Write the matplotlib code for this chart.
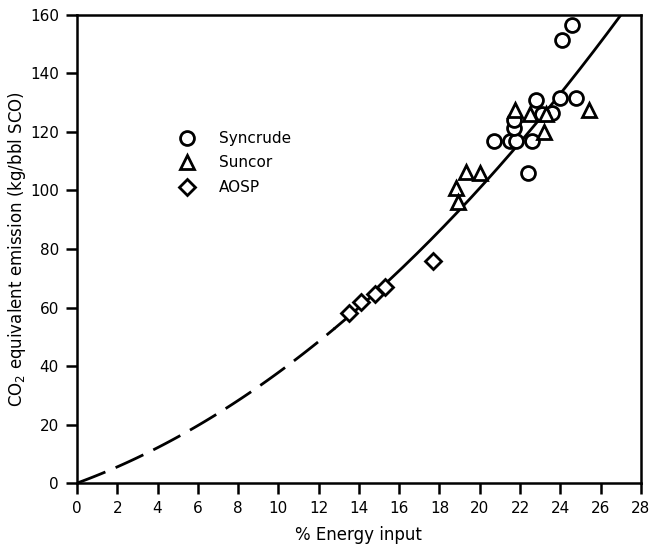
import numpy as np
import matplotlib

matplotlib.use("Agg")
import matplotlib.pyplot as plt

# Syncrude (open circles)
syncrude_x = [20.7, 21.5, 21.8, 22.6, 21.7, 21.7, 22.8, 24.0, 24.8, 23.6, 23.1, 22.4, 24.1, 24.6]
syncrude_y = [117, 117, 117, 117, 121.5, 124, 131, 131.5, 131.5, 126.5, 126, 106, 151.5, 156.5]

# Suncor (open triangles)
suncor_x = [21.75, 22.5, 23.3, 23.2, 25.4, 19.3, 20.0, 18.8, 18.9]
suncor_y = [127.5, 126, 126, 120, 127.5, 106.3, 106, 101, 96]

# AOSP (open diamonds)
aosp_x = [13.5, 14.1, 14.8, 15.3, 17.7]
aosp_y = [58, 62, 64.5, 67, 76]

# fitted curve y = a*x + b*x^2 (dashed below x_split, solid above)
fit_a = 2.52
fit_b = 0.126
x_split = 12.8
x_end = 27.2

fig = plt.figure(figsize=(6.52, 5.49), dpi=100)
ax = fig.add_axes([0.118, 0.12, 0.865, 0.853])

x_dash = np.linspace(0, x_split, 100)
x_solid = np.linspace(x_split, x_end, 150)
ax.plot(x_dash, fit_a * x_dash + fit_b * x_dash**2, color="black", lw=2.0,
        dashes=(11, 4), zorder=2)
ax.plot(x_solid, fit_a * x_solid + fit_b * x_solid**2, color="black", lw=2.0, zorder=2)

mk = dict(linestyle="none", markerfacecolor="white", markeredgecolor="black",
          markeredgewidth=2.0, zorder=3)
ax.plot(syncrude_x, syncrude_y, marker="o", markersize=10, label="Syncrude", **mk)
ax.plot(suncor_x, suncor_y, marker="^", markersize=10.5, label="Suncor", **mk)
ax.plot(aosp_x, aosp_y, marker="D", markersize=8, label="AOSP", **mk)

ax.set_xlim(0, 28)
ax.set_ylim(0, 160)
ax.set_xticks(np.arange(0, 29, 2))
ax.set_yticks(np.arange(0, 161, 20))
ax.tick_params(direction="out", length=8, width=1.8, labelsize=11, pad=5)
for s in ax.spines.values():
    s.set_linewidth(1.8)

ax.set_xlabel("% Energy input", fontsize=12, labelpad=7)
ax.set_ylabel("CO$_2$ equivalent emission (kg/bbl SCO)", fontsize=12, labelpad=1)

ax.legend(loc="upper left", bbox_to_anchor=(0.17, 0.765), frameon=False,
          fontsize=11, handlelength=1.0, handletextpad=1.6, labelspacing=0.62,
          borderaxespad=0)

fig.savefig("out.png", dpi=100)
